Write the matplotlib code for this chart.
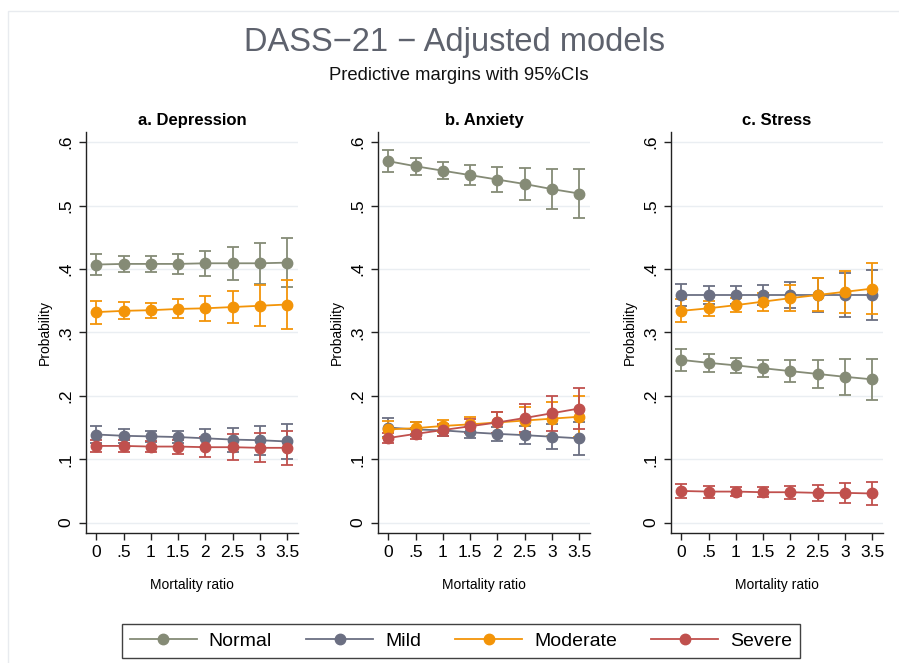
import matplotlib
matplotlib.use("Agg")
import matplotlib.pyplot as plt
from matplotlib.lines import Line2D
from matplotlib.patches import Rectangle
import numpy as np

plt.rcParams['font.family'] = ['Liberation Sans', 'DejaVu Sans']

x = [0, 0.5, 1, 1.5, 2, 2.5, 3, 3.5]
xticklabels = ["0", ".5", "1", "1.5", "2", "2.5", "3", "3.5"]
yticks = [0, 0.1, 0.2, 0.3, 0.4, 0.5, 0.6]
yticklabels = ["0", ".1", ".2", ".3", ".4", ".5", ".6"]

series_names = ["Normal", "Mild", "Moderate", "Severe"]
colors = ["#858b76", "#6b6f82", "#f39408", "#c0504d"]

panel_titles = ["a. Depression", "b. Anxiety", "c. Stress"]

# Depression
dep_normal = [0.407, 0.408, 0.408, 0.408, 0.409, 0.409, 0.409, 0.410]
dep_normal_ci = [0.017, 0.013, 0.0127, 0.0155, 0.020, 0.026, 0.032, 0.039]
dep_mild = [0.139, 0.137, 0.136, 0.135, 0.133, 0.131, 0.130, 0.128]
dep_mild_ci = [0.0137, 0.011, 0.009, 0.0097, 0.014, 0.019, 0.023, 0.027]
dep_moderate = [0.332, 0.334, 0.335, 0.337, 0.338, 0.340, 0.342, 0.344]
dep_moderate_ci = [0.018, 0.0134, 0.012, 0.015, 0.020, 0.0255, 0.032, 0.0387]
dep_severe = [0.121, 0.121, 0.120, 0.120, 0.119, 0.119, 0.118, 0.118]
dep_severe_ci = [0.010, 0.0095, 0.0087, 0.011, 0.0155, 0.0205, 0.023, 0.027]

# Anxiety
anx_normal = [0.570, 0.562, 0.555, 0.548, 0.541, 0.534, 0.526, 0.519]
anx_normal_ci = [0.017, 0.0137, 0.013, 0.0155, 0.020, 0.026, 0.032, 0.038]
anx_mild = [0.150, 0.147, 0.1455, 0.1425, 0.140, 0.138, 0.1355, 0.133]
anx_mild_ci = [0.015, 0.011, 0.009, 0.0085, 0.011, 0.0145, 0.020, 0.026]
anx_moderate = [0.147, 0.149, 0.1525, 0.155, 0.158, 0.161, 0.164, 0.167]
anx_moderate_ci = [0.014, 0.0095, 0.0095, 0.012, 0.0165, 0.021, 0.027, 0.032]
anx_severe = [0.1335, 0.140, 0.146, 0.152, 0.158, 0.165, 0.1725, 0.180]
anx_severe_ci = [0.0085, 0.0085, 0.009, 0.011, 0.017, 0.0225, 0.028, 0.033]

# Stress
str_normal = [0.2566, 0.252, 0.248, 0.2435, 0.239, 0.2345, 0.230, 0.226]
str_normal_ci = [0.018, 0.0145, 0.0124, 0.0137, 0.0175, 0.0224, 0.028, 0.0326]
str_mild = [0.359, 0.359, 0.359, 0.359, 0.359, 0.359, 0.359, 0.359]
str_mild_ci = [0.018, 0.0145, 0.0137, 0.015, 0.0205, 0.027, 0.034, 0.040]
str_moderate = [0.334, 0.338, 0.343, 0.3485, 0.354, 0.359, 0.364, 0.369]
str_moderate_ci = [0.018, 0.012, 0.011, 0.014, 0.020, 0.026, 0.033, 0.040]
str_severe = [0.050, 0.049, 0.049, 0.048, 0.048, 0.047, 0.047, 0.046]
str_severe_ci = [0.0105, 0.0095, 0.0076, 0.008, 0.010, 0.0125, 0.016, 0.0187]

panels = [
    [(dep_normal, dep_normal_ci), (dep_mild, dep_mild_ci), (dep_moderate, dep_moderate_ci), (dep_severe, dep_severe_ci)],
    [(anx_normal, anx_normal_ci), (anx_mild, anx_mild_ci), (anx_moderate, anx_moderate_ci), (anx_severe, anx_severe_ci)],
    [(str_normal, str_normal_ci), (str_mild, str_mild_ci), (str_moderate, str_moderate_ci), (str_severe, str_severe_ci)],
]

W, H = 899, 663
fig = plt.figure(figsize=(W / 100, H / 100), dpi=100)
fig.patch.set_facecolor("white")

# faint outer frame
fig.patches.append(Rectangle((8 / W, -0.01), 1.0, 1 - 11 / H + 0.01, transform=fig.transFigure,
                             fill=False, edgecolor="#e8ebef", linewidth=1.0, zorder=0))

lefts = [86, 378, 671]
ax_w = 212
top_px, bot_px = 132, 533

for i, (left, data) in enumerate(zip(lefts, panels)):
    ax = fig.add_axes([left / W, 1 - bot_px / H, ax_w / W, (bot_px - top_px) / H])
    ax.set_xlim(-0.19, 3.70)
    ax.set_ylim(-0.0163, 0.616)
    for s in ["top", "right"]:
        ax.spines[s].set_visible(False)
    for s in ["left", "bottom"]:
        ax.spines[s].set_color("#222222")
        ax.spines[s].set_linewidth(1.0)
    ax.set_yticks(yticks)
    ax.set_yticklabels(yticklabels, rotation=90, va="center", fontsize=12.5)
    ax.set_xticks(x)
    ax.set_xticklabels(xticklabels, fontsize=12.5)
    ax.tick_params(axis="both", direction="out", length=5, width=1.0, color="#222222")
    ax.tick_params(axis="y", pad=4)
    for yv in yticks:
        ax.axhline(yv, color="#eaeef2", linewidth=1.0, zorder=0)
    for (vals, ci), c in zip(data, colors):
        ax.errorbar(x, vals, yerr=ci, color=c, marker="o", markersize=7.5,
                    linewidth=1.3, elinewidth=1.3, capsize=4.5, capthick=1.3, zorder=3)
    ax.set_title(panel_titles[i], fontsize=12, fontweight="bold", pad=5)
    ax.set_xlabel("Mortality ratio", fontsize=10, labelpad=13)
    ax.set_ylabel("Probability", fontsize=10, labelpad=5)

fig.text(455 / W, 1 - 43 / H, "DASS\u221221 \u2212 Adjusted models", ha="center", va="center",
         fontsize=23.5, color="#5e626d")
fig.text(459 / W, 1 - 76 / H, "Predictive margins with 95%CIs", ha="center", va="center",
         fontsize=13.3, color="#111111")

handles = [Line2D([0], [0], color=c, marker="o", markersize=7.5, linewidth=1.3) for c in colors]
leg = fig.legend(handles, series_names, loc="center", bbox_to_anchor=(461 / W, 1 - 641 / H),
                 ncol=4, frameon=True, fontsize=14, handlelength=3.45, columnspacing=1.75,
                 handletextpad=0.62, borderpad=0.4, borderaxespad=0, fancybox=False)
leg.get_frame().set_edgecolor("#111111")
leg.get_frame().set_linewidth(1.0)

fig.savefig("out.png", dpi=100, facecolor="white")
